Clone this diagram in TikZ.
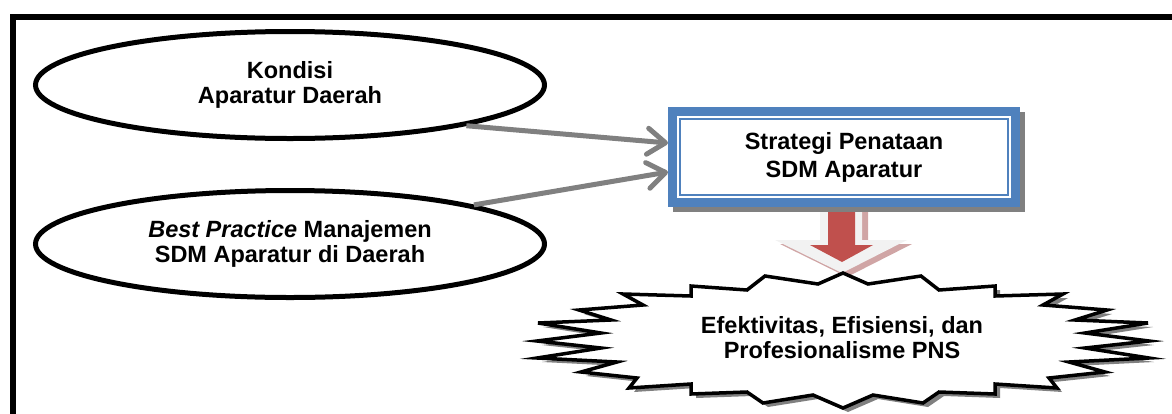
\documentclass[tikz,border=0pt]{standalone}
\usepackage{fontspec}
\setmainfont{Liberation Sans}
\usetikzlibrary{positioning}
\usetikzlibrary{shapes.geometric,arrows.meta,backgrounds}

\definecolor{kotakbiru}{RGB}{79,129,189}
\definecolor{abuabu}{RGB}{128,128,128}
\definecolor{merahpanah}{RGB}{192,80,77}
\definecolor{bayangmerah}{RGB}{208,165,165}
\definecolor{terang}{RGB}{242,242,242}

\newcommand{\jalurbintang}{(0,-67) -- (25,-56) -- (78,-64) -- (96,-50) -- (152,-54) -- (152,-44)
  -- (220,-46) -- (200,-35) -- (264,-30) -- (232,-20) -- (305,-17) -- (242,-7) -- (306,1)
  -- (242,8) -- (306,18) -- (226,22) -- (262,32) -- (206,38) -- (214,48) -- (152,44)
  -- (152,54) -- (96,52) -- (80,63) -- (30,55) -- (0,68) -- (-30,55) -- (-80,63) -- (-96,52)
  -- (-152,54) -- (-152,44) -- (-214,48) -- (-206,38) -- (-262,32) -- (-226,22) -- (-306,18)
  -- (-242,8) -- (-306,1) -- (-242,-7) -- (-305,-17) -- (-232,-20) -- (-264,-30) -- (-200,-35)
  -- (-220,-46) -- (-152,-44) -- (-152,-54) -- (-96,-50) -- (-78,-64) -- (-25,-56) -- cycle}

\begin{document}
\begin{tikzpicture}[
    x=1pt, y=-1pt,
    teks/.style={font=\bfseries\fontsize{23.5}{25}\selectfont, align=center},
    elips/.style={teks, draw, ellipse, line width=5pt, inner sep=0pt, minimum width=509pt, minimum height=107pt},
    kotak/.style={teks, draw=kotakbiru, fill=white, line width=9pt, minimum width=343pt, minimum height=91pt,
      font=\bfseries\fontsize{23.5}{28}\selectfont},
    panah/.style={draw=abuabu, line width=5pt, -{Straight Barb[length=18pt,width=26pt,round]}}
    ]
    \useasboundingbox (0,0) rectangle (1172,413);

    % bingkai
    \draw[line width=6pt] (12.5,17) rectangle (1200,440);

    \node[elips] (kondisi) at (290,85) {Kondisi\\Aparatur Daerah};
    \node[elips] (praktik) at (290,244) {\textit{Best Practice} Manajemen\\SDM Aparatur di Daerah};

    \node[kotak] (strategi) at (844,157) {Strategi Penataan\\SDM Aparatur};
    \draw[kotakbiru, line width=2pt] ([shift={(12pt,-12pt)}]strategi.north west)
      rectangle ([shift={(-12pt,12pt)}]strategi.south east);
    \begin{scope}[on background layer]
      \fill[abuabu] ([shift={(5pt,-5pt)}]strategi.north west) rectangle ([shift={(5pt,-5pt)}]strategi.south east);
    \end{scope}

    \draw[panah] (kondisi.-13) -- ([yshift=14pt]strategi.west);
    \draw[panah] (praktik.12) -- ([yshift=-15pt]strategi.west);

    % panah blok merah
    \fill[bayangmerah] (826,212) -- (868,212) -- (868,244) -- (912,244) -- (847,277) -- (780,244) -- (826,244) -- cycle;
    \fill[terang] (820,212) -- (862,212) -- (862,240) -- (907,240) -- (842,273) -- (775,240) -- (820,240) -- cycle;
    \fill[merahpanah] (828,212) -- (855,212) -- (855,245) -- (873,245) -- (842,262) -- (810,245) -- (828,245) -- cycle;

    % bintang hasil
    \coordinate (pusat) at (843,340);
    \begin{scope}[shift={(pusat)}]
      \fill[abuabu, xshift=5pt, yshift=-4pt] \jalurbintang;
      \draw[fill=white, line width=3.5pt, line join=miter] \jalurbintang;
    \end{scope}
    \node[teks] (hasil) at (842,338) {Efektivitas, Efisiensi, dan\\Profesionalisme PNS};

\end{tikzpicture}
\end{document}
